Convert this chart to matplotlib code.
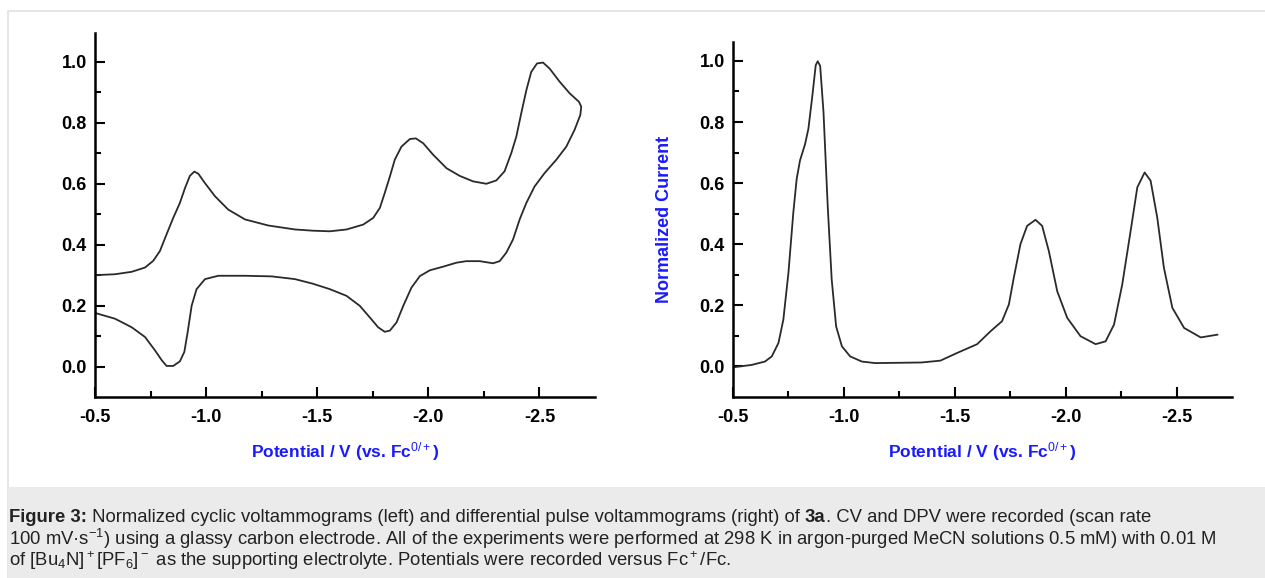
import matplotlib
matplotlib.use('Agg')
import numpy as np
from matplotlib import pyplot as plt
from matplotlib.patches import Rectangle

plt.rcParams['font.family'] = ['Liberation Sans', 'DejaVu Sans']
plt.rcParams['mathtext.fontset'] = 'custom'
plt.rcParams['mathtext.rm'] = 'Liberation Sans'
plt.rcParams['mathtext.it'] = 'Liberation Sans:italic'
plt.rcParams['mathtext.bf'] = 'Liberation Sans:bold'

# CV loop: reductive scan out to -2.69 V, then the return scan
cv_E = [-0.500, -0.590, -0.665, -0.725, -0.762, -0.792, -0.822, -0.852, -0.882, -0.905,
        -0.927, -0.947, -0.965, -0.995, -1.040, -1.100, -1.175, -1.280, -1.400, -1.480,
        -1.557, -1.632, -1.707, -1.752, -1.782, -1.804, -1.827, -1.849, -1.879, -1.917,
        -1.944, -1.977, -2.022, -2.082, -2.141, -2.201, -2.261, -2.306, -2.343, -2.373,
        -2.396, -2.418, -2.441, -2.463, -2.489, -2.516, -2.546, -2.591, -2.636, -2.678,
        -2.688,
        -2.684, -2.658, -2.621, -2.576, -2.523, -2.478, -2.441, -2.411, -2.381, -2.351,
        -2.321, -2.291, -2.231, -2.171, -2.127, -2.067, -2.007, -1.962, -1.924, -1.887,
        -1.857, -1.827, -1.804, -1.774, -1.737, -1.692, -1.632, -1.557, -1.480, -1.400,
        -1.295, -1.175, -1.055, -0.995, -0.957, -0.935, -0.917, -0.902, -0.882, -0.852,
        -0.822, -0.800, -0.770, -0.725, -0.665, -0.590, -0.500]
cv_I = [0.300, 0.303, 0.311, 0.325, 0.347, 0.379, 0.434, 0.488, 0.537, 0.586,
        0.626, 0.640, 0.633, 0.602, 0.559, 0.515, 0.483, 0.463, 0.450, 0.446,
        0.444, 0.450, 0.466, 0.488, 0.521, 0.570, 0.624, 0.679, 0.722, 0.747,
        0.749, 0.733, 0.695, 0.651, 0.626, 0.608, 0.600, 0.611, 0.641, 0.700,
        0.755, 0.831, 0.907, 0.967, 0.995, 0.998, 0.978, 0.935, 0.897, 0.869,
        0.853,
        0.826, 0.777, 0.722, 0.679, 0.635, 0.591, 0.537, 0.483, 0.417, 0.374,
        0.346, 0.339, 0.346, 0.346, 0.341, 0.328, 0.316, 0.297, 0.259, 0.199,
        0.145, 0.118, 0.114, 0.129, 0.161, 0.199, 0.232, 0.254, 0.272, 0.287,
        0.296, 0.298, 0.298, 0.287, 0.254, 0.200, 0.113, 0.048, 0.017, 0.002,
        0.002, 0.021, 0.053, 0.097, 0.129, 0.157, 0.176]

# DPV trace
dpv_E = [-0.509, -0.584, -0.644, -0.675, -0.705, -0.727, -0.750, -0.772, -0.787, -0.802,
         -0.825, -0.840, -0.858, -0.873, -0.882, -0.893, -0.908, -0.927, -0.945, -0.965,
         -0.991, -1.028, -1.081, -1.141, -1.250, -1.350, -1.435, -1.510, -1.601, -1.661,
         -1.713, -1.744, -1.766, -1.796, -1.826, -1.864, -1.894, -1.924, -1.962, -2.007,
         -2.067, -2.135, -2.180, -2.218, -2.255, -2.293, -2.323, -2.356, -2.383, -2.413,
         -2.443, -2.481, -2.534, -2.609, -2.684]
dpv_I = [-0.002, 0.005, 0.016, 0.033, 0.077, 0.153, 0.307, 0.504, 0.613, 0.674,
         0.728, 0.778, 0.887, 0.986, 0.999, 0.984, 0.833, 0.526, 0.285, 0.131,
         0.066, 0.033, 0.016, 0.011, 0.012, 0.013, 0.019, 0.044, 0.073, 0.115,
         0.148, 0.203, 0.290, 0.400, 0.460, 0.480, 0.460, 0.378, 0.246, 0.159,
         0.099, 0.073, 0.082, 0.137, 0.268, 0.444, 0.586, 0.635, 0.608, 0.487,
         0.323, 0.192, 0.126, 0.095, 0.104]

xticks = [-0.5, -1.0, -1.5, -2.0, -2.5]
yticks = [0.0, 0.2, 0.4, 0.6, 0.8, 1.0]
xlabel = r'Potential / V (vs. Fc$^{0/+}$)'
blue = '#1a1aff'

W, H = 1265, 578
fig = plt.figure(figsize=(W / 100, H / 100), dpi=100)

# page frame and caption box
fig.patches.append(Rectangle((8 / W, 0), 1, 1 - 11 / H, transform=fig.transFigure,
                             facecolor='none', edgecolor='#e2e2e2', lw=1.2))
fig.patches.append(Rectangle((8 / W, 0), 1, (H - 487) / H, transform=fig.transFigure,
                             facecolor='#ebebeb', edgecolor='none'))


def style(ax, ytop):
    ax.set_xlim(-0.5, -2.75)
    ax.set_ylim(-0.1, ytop)
    for s in ['top', 'right']:
        ax.spines[s].set_visible(False)
    for s in ['left', 'bottom']:
        ax.spines[s].set_linewidth(1.8)
    ax.set_xticks(xticks)
    ax.set_xticklabels(['%.1f' % v for v in xticks])
    ax.set_yticks(yticks)
    ax.set_xticks(np.arange(-0.75, -2.7, -0.5), minor=True)
    ax.set_yticks(np.arange(0.1, 1.05, 0.2), minor=True)
    ax.tick_params(which='major', direction='in', length=7, width=1.5, labelsize=13)
    ax.tick_params(which='minor', direction='in', length=4, width=1.5)
    ax.tick_params(axis='x', which='major', pad=9)
    ax.tick_params(axis='y', which='major', pad=6)
    for lab in ax.get_xticklabels() + ax.get_yticklabels():
        lab.set_fontweight('bold')
    ax.set_xlabel(xlabel, color=blue, fontsize=12.5, fontweight='bold', labelpad=10)


ax1 = fig.add_axes([95 / W, 1 - 397 / H, 500 / W, 364 / H])
ax1.plot(cv_E, cv_I, color='#2a2a2a', lw=1.3)
style(ax1, 1.095)

ax2 = fig.add_axes([733 / W, 1 - 397 / H, 499 / W, 355 / H])
ax2.plot(dpv_E, dpv_I, color='#2a2a2a', lw=1.3)
style(ax2, 1.062)
ax2.set_ylabel('Normalized Current', color=blue, fontsize=13, fontweight='bold', labelpad=19)

# caption, drawn piece by piece so bold words sit inline
caption = [
    [('Figure 3:', 'bold'), (' Normalized cyclic voltammograms (left) and differential pulse voltammograms (right) of ', 'normal'),
     ('3a', 'bold'), ('. CV and DPV were recorded (scan rate', 'normal')],
    [(r'100 mV·s$^{-1}$) using a glassy carbon electrode. All of the experiments were performed at 298 K in argon-purged MeCN solutions 0.5 mM) with 0.01 M', 'normal')],
    [(r'of [Bu$_4$N]$^+$[PF$_6$]$^-$ as the supporting electrolyte. Potentials were recorded versus Fc$^+$/Fc.', 'normal')],
]
r = fig.canvas.get_renderer()
for i, line in enumerate(caption):
    x = 9 / W
    y = 1 - (517 + 22 * i) / H
    for txt, wt in line:
        t = fig.text(x, y, txt, fontsize=13.3, color='#222222', fontweight=wt,
                     ha='left', va='center')
        bb = t.get_window_extent(renderer=r)
        x = bb.x1 / W

fig.savefig('out.png', dpi=100)
